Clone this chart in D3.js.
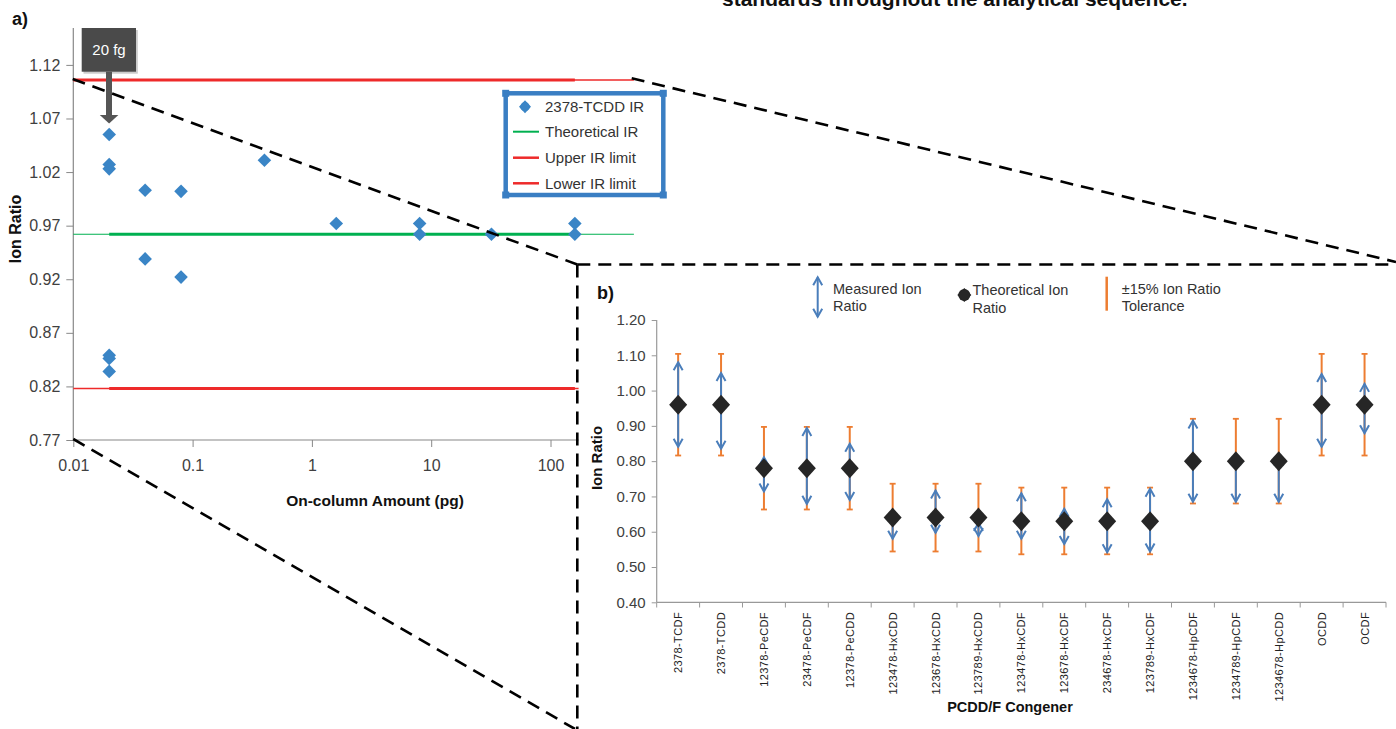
<!DOCTYPE html>
<html><head><meta charset="utf-8">
<script src="https://cdn.jsdelivr.net/npm/d3@7"></script>
<style>
html,body{margin:0;padding:0;background:#fff;}
svg{display:block;font-family:"Liberation Sans",Arial,sans-serif;}
</style></head>
<body>
<svg id="c" width="1396" height="729"></svg>
<script>
// ---------- Panel a data ----------
const amountsPg = [0.02,0.02,0.02,0.02,0.02,0.02,0.04,0.04,0.08,0.08,0.4,1.6,8,8,32,160,160];
const ionRatiosA = [1.055,1.027,1.023,0.849,0.846,0.834,1.003,0.939,1.002,0.922,1.031,0.972,0.972,0.962,0.962,0.972,0.962];
const theoreticalIR = 0.962;
const upperIR = 1.106;
const lowerIR = 0.818;
const yTicksA = [0.77,0.82,0.87,0.92,0.97,1.02,1.07,1.12];
const xTicksA = [0.01,0.1,1,10,100];
const xTickLabelsA = ["0.01","0.1","1","10","100"];
const legendA = ["2378-TCDD IR","Theoretical IR","Upper IR limit","Lower IR limit"];

// ---------- Panel b data ----------
const congeners = ["2378-TCDF","2378-TCDD","12378-PeCDF","23478-PeCDF","12378-PeCDD","123478-HxCDD","123678-HxCDD","123789-HxCDD","123478-HxCDF","123678-HxCDF","234678-HxCDF","123789-HxCDF","1234678-HpCDF","1234789-HpCDF","1234678-HpCDD","OCDD","OCDF"];
const theoreticalB = [0.96,0.96,0.78,0.78,0.78,0.64,0.64,0.64,0.63,0.63,0.63,0.63,0.80,0.80,0.80,0.96,0.96];
const tolHigh = [1.104,1.104,0.897,0.897,0.897,0.736,0.736,0.736,0.725,0.725,0.725,0.725,0.92,0.92,0.92,1.104,1.104];
const tolLow  = [0.816,0.816,0.663,0.663,0.663,0.544,0.544,0.544,0.536,0.536,0.536,0.536,0.68,0.68,0.68,0.816,0.816];
const measHigh = [1.08,1.05,0.811,0.894,0.849,0.652,0.717,0.625,0.709,0.665,0.692,0.722,0.915,0.81,0.81,1.047,1.019];
const measLow  = [0.841,0.835,0.714,0.679,0.69,0.58,0.597,0.588,0.580,0.565,0.542,0.544,0.685,0.685,0.685,0.841,0.879];
const yTicksB = [0.40,0.50,0.60,0.70,0.80,0.90,1.00,1.10,1.20];

const svg = d3.select("#c");
const TXT = "#404040";

// top caption (cut off at the top edge, as in the reference)
svg.append("text").attr("x",722).attr("y",6).attr("font-size",21).attr("font-weight","bold")
  .attr("fill","#111").text("standards throughout the analytical sequence.");

// ================= Panel a =================
const xA = d3.scaleLog().domain([0.01,1000]).range([73.3, 73.3+5*119.3]);
const yA = d3.scaleLinear().domain([0.77,1.12]).range([440,64.9]);
const gA = svg.append("g");

svg.append("text").attr("x",12).attr("y",25).attr("font-size",18).attr("font-weight","bold").attr("fill","#111").text("a)");

// axes
const axL = gA.append("g").attr("transform","translate(73.3,0)")
  .call(d3.axisLeft(yA).tickValues(yTicksA).tickSize(7).tickPadding(6).tickFormat(d3.format(".2f")));
axL.select(".domain").remove();
axL.selectAll("line").attr("stroke","#888");
axL.selectAll("text").attr("font-size",16).attr("fill",TXT).attr("font-family","Liberation Sans, Arial, sans-serif");
gA.append("line").attr("x1",73.3).attr("x2",73.3).attr("y1",28).attr("y2",440).attr("stroke","#888").attr("stroke-width",1.2);

const axB = gA.append("g").attr("transform","translate(0,440)")
  .call(d3.axisBottom(xA).tickValues(xTicksA).tickSize(7).tickPadding(13).tickFormat((d,i)=>xTickLabelsA[i]));
axB.select(".domain").remove();
axB.selectAll("line").attr("stroke","#888");
axB.selectAll("text").attr("font-size",16).attr("fill",TXT).attr("font-family","Liberation Sans, Arial, sans-serif");
gA.append("line").attr("x1",73.3).attr("x2",xA(1000)).attr("y1",440).attr("y2",440).attr("stroke","#888").attr("stroke-width",1.2);

// axis titles
gA.append("text").attr("transform","translate(21,229) rotate(-90)").attr("text-anchor","middle")
  .attr("font-size",16).attr("font-weight","bold").attr("fill","#111").text("Ion Ratio");
gA.append("text").attr("x",375).attr("y",506).attr("text-anchor","middle")
  .attr("font-size",15.5).attr("font-weight","bold").attr("fill","#111").text("On-column Amount (pg)");

// reference lines: thin full extent + thick over data range
function hline(v,x0,x1,color,w){
  gA.append("line").attr("x1",xA(x0)).attr("x2",xA(x1)).attr("y1",yA(v)).attr("y2",yA(v))
    .attr("stroke",color).attr("stroke-width",w);
}
hline(theoreticalIR,0.01,500,"#00b050",1.2);
hline(theoreticalIR,0.02,160,"#00b050",3);
hline(upperIR,0.01,500,"#ee2a2a",1.5);
hline(upperIR,0.01,160,"#ee2a2a",3);
hline(lowerIR,0.01,500,"#ee2a2a",1.5);
hline(lowerIR,0.02,160,"#ee2a2a",3);

// data diamonds
const dia = (cx,cy,hw,hh)=>`M${cx},${cy-hh}L${cx+hw},${cy}L${cx},${cy+hh}L${cx-hw},${cy}Z`;
gA.selectAll(".pt").data(amountsPg.map((a,i)=>[a,ionRatiosA[i]])).join("path")
  .attr("d",d=>dia(xA(d[0]),yA(d[1]),6.8,6.8)).attr("fill","#3a85c6");

// legend a
const lg = gA.append("g");
lg.append("rect").attr("x",505.7).attr("y",93.3).attr("width",157.6).attr("height",101.7)
  .attr("fill","#fff").attr("stroke","#3a7ec3").attr("stroke-width",4.5);
[[505.7,93.3],[663.3,93.3],[505.7,195],[663.3,195]].forEach(([cx,cy])=>{
  lg.append("rect").attr("x",cx-3.5).attr("y",cy-3.5).attr("width",7).attr("height",7).attr("fill","#3a7ec3");
});
const ly = [106.7,131.7,157.7,183.3];
lg.append("path").attr("d",dia(525,ly[0],6,6.5)).attr("fill","#3a85c6");
lg.append("circle").attr("cx",525).attr("cy",ly[0]).attr("r",4.6).attr("fill","#3a85c6");
lg.append("line").attr("x1",513).attr("x2",539).attr("y1",ly[1]).attr("y2",ly[1]).attr("stroke","#00b050").attr("stroke-width",2);
lg.append("line").attr("x1",513).attr("x2",539).attr("y1",ly[2]).attr("y2",ly[2]).attr("stroke","#ee2a2a").attr("stroke-width",2.5);
lg.append("line").attr("x1",513).attr("x2",539).attr("y1",ly[3]).attr("y2",ly[3]).attr("stroke","#ee2a2a").attr("stroke-width",2.5);
legendA.forEach((t,i)=>{
  lg.append("text").attr("x",545).attr("y",ly[i]).attr("dy","0.36em").attr("font-size",15).attr("fill","#333").text(t);
});

// 20 fg callout
const co = svg.append("g");
co.append("rect").attr("x",83.5).attr("y",30).attr("width",54.3).attr("height",43.7).attr("fill","#999").attr("opacity",0.5);
co.append("rect").attr("x",81.7).attr("y",28).attr("width",54.3).attr("height",43.7).attr("fill","#4a4a4a");
co.append("text").attr("x",109).attr("y",50).attr("dy","0.36em").attr("text-anchor","middle")
  .attr("font-size",15).attr("fill","#fff").text("20 fg");
co.append("rect").attr("x",106).attr("y",71.7).attr("width",6).attr("height",43.5).attr("fill","#555");
co.append("path").attr("d","M99.8,115L118.4,115L109.1,123.5Z").attr("fill","#555");

// ================= zoom dashes =================
const dash = svg.append("g").attr("stroke","#000").attr("stroke-width",2.6).attr("stroke-dasharray","13,8").attr("fill","none");
dash.append("line").attr("x1",72.7).attr("y1",79).attr("x2",577.3).attr("y2",264.5);
dash.append("line").attr("x1",631.7).attr("y1",78.3).attr("x2",1396).attr("y2",262);
dash.append("line").attr("x1",73.3).attr("y1",439).attr("x2",575).attr("y2",729);

// ================= Panel b =================
svg.append("rect").attr("x",578.6).attr("y",265.8).attr("width",820).attr("height",470).attr("fill","#fff");
const db = svg.append("g").attr("stroke","#000").attr("stroke-width",2.6).attr("stroke-dasharray","13,8").attr("fill","none");
db.append("line").attr("x1",577.3).attr("y1",264.5).attr("x2",1396).attr("y2",264.5);
db.append("line").attr("x1",577.3).attr("y1",264.5).attr("x2",577.3).attr("y2",729);

const gB = svg.append("g");
const xB = d3.scaleBand().domain(congeners).range([656.7,1386]).padding(0);
const yB = d3.scaleLinear().domain([0.4,1.2]).range([602.3,320]);

gB.append("text").attr("x",597).attr("y",293).attr("dy","0.36em").attr("font-size",18).attr("font-weight","bold").attr("fill","#111").text("b)");

const ayB = gB.append("g").attr("transform","translate(656.7,0)")
  .call(d3.axisLeft(yB).tickValues(yTicksB).tickSize(5).tickPadding(6).tickFormat(d3.format(".2f")));
ayB.select(".domain").remove();
ayB.selectAll("line").attr("stroke","#999");
ayB.selectAll("text").attr("font-size",15).attr("fill",TXT).attr("font-family","Liberation Sans, Arial, sans-serif");
gB.append("line").attr("x1",656.7).attr("x2",656.7).attr("y1",320).attr("y2",602.3).attr("stroke","#999").attr("stroke-width",1.2);

// x axis with boundary ticks
gB.append("line").attr("x1",656.7).attr("x2",1386).attr("y1",602.3).attr("y2",602.3).attr("stroke","#999").attr("stroke-width",1.2);
const bounds = congeners.map(c=>xB(c)).concat([xB.range()[1]]);
gB.selectAll(".bt").data(bounds).join("line").attr("x1",d=>d).attr("x2",d=>d)
  .attr("y1",602.3).attr("y2",607.5).attr("stroke","#999");
gB.selectAll(".cl").data(congeners).join("text")
  .attr("transform",d=>`translate(${xB(d)+xB.bandwidth()/2},612) rotate(-90)`)
  .attr("text-anchor","end").attr("dy","0.36em").attr("font-size",11).attr("letter-spacing",0.4).attr("fill","#222").text(d=>d);

gB.append("text").attr("transform","translate(602,458) rotate(-90)").attr("text-anchor","middle")
  .attr("font-size",15).attr("font-weight","bold").attr("fill","#111").text("Ion Ratio");
gB.append("text").attr("x",1010).attr("y",712).attr("text-anchor","middle")
  .attr("font-size",14.5).attr("font-weight","bold").attr("fill","#111").text("PCDD/F Congener");

const ORANGE = "#ed7d31", BLUE = "#4a7ebb";
const cx = c => xB(c)+xB.bandwidth()/2;
// tolerance bars
congeners.forEach((c,i)=>{
  const x = cx(c);
  gB.append("line").attr("x1",x).attr("x2",x).attr("y1",yB(tolHigh[i])).attr("y2",yB(tolLow[i])).attr("stroke",ORANGE).attr("stroke-width",2);
  [tolHigh[i],tolLow[i]].forEach(v=>{
    gB.append("line").attr("x1",x-3).attr("x2",x+3).attr("y1",yB(v)).attr("y2",yB(v)).attr("stroke",ORANGE).attr("stroke-width",1.8);
  });
});
// measured arrows
function dblArrow(g,x,y1,y2,w){
  g.append("line").attr("x1",x).attr("x2",x).attr("y1",y1).attr("y2",y2).attr("stroke",BLUE).attr("stroke-width",w);
  g.append("path").attr("d",`M${x-4.5},${y1+8}L${x},${y1}L${x+4.5},${y1+8}`).attr("fill","none").attr("stroke",BLUE).attr("stroke-width",w);
  g.append("path").attr("d",`M${x-4.5},${y2-8}L${x},${y2}L${x+4.5},${y2-8}`).attr("fill","none").attr("stroke",BLUE).attr("stroke-width",w);
}
congeners.forEach((c,i)=>dblArrow(gB,cx(c),yB(measHigh[i]),yB(measLow[i]),2));
// theoretical diamonds
gB.selectAll(".td").data(congeners).join("path")
  .attr("d",(c,i)=>dia(cx(c),yB(theoreticalB[i]),9,10)).attr("fill","#262626");

// legend b
dblArrow(gB,817.7,277.3,316.7,2);
[["Measured Ion",288.3],["Ratio",305.7]].forEach(([t,y])=>gB.append("text").attr("x",833).attr("y",y).attr("dy","0.36em").attr("font-size",14.5).attr("fill","#333").text(t));
gB.append("circle").attr("cx",964.3).attr("cy",295).attr("r",6).attr("fill","#262626");
gB.append("path").attr("d",dia(964.3,295,7,7)).attr("fill","#262626");
[["Theoretical Ion",290],["Ratio",307.5]].forEach(([t,y])=>gB.append("text").attr("x",972.5).attr("y",y).attr("dy","0.36em").attr("font-size",14.5).attr("fill","#333").text(t));
gB.append("line").attr("x1",1106.7).attr("x2",1106.7).attr("y1",276.7).attr("y2",310.7).attr("stroke",ORANGE).attr("stroke-width",2.5);
[["\u00B115% Ion Ratio",288.3],["Tolerance",305.7]].forEach(([t,y])=>gB.append("text").attr("x",1121.7).attr("y",y).attr("dy","0.36em").attr("font-size",14.5).attr("fill","#333").text(t));
</script>
</body></html>
